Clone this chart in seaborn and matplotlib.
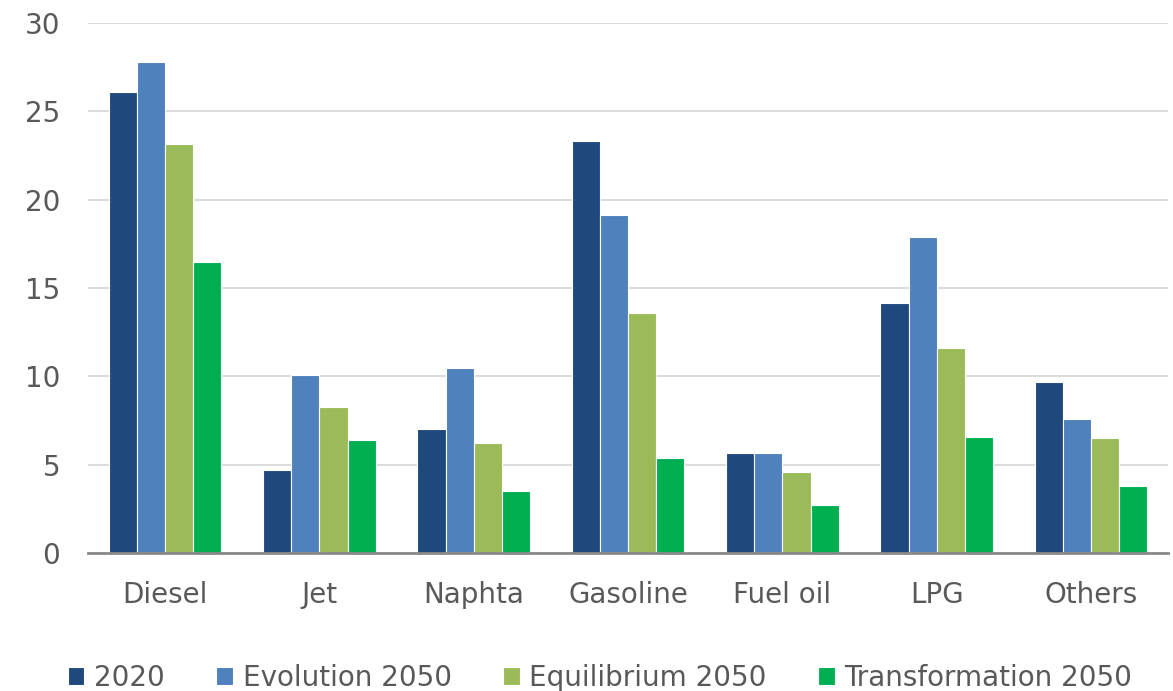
import numpy as np
import pandas as pd
import matplotlib.pyplot as plt
import seaborn as sns

# values
products = ["Diesel", "Jet", "Naphta", "Gasoline", "Fuel oil", "LPG", "Others"]
scenarios = ["2020", "Evolution 2050", "Equilibrium 2050", "Transformation 2050"]
v2020 = [26.1, 4.7, 7.0, 23.3, 5.65, 14.15, 9.7]
evolution = [27.8, 10.1, 10.45, 19.15, 5.65, 17.9, 7.6]
equilibrium = [23.15, 8.25, 6.25, 13.6, 4.6, 11.6, 6.5]
transformation = [16.5, 6.4, 3.5, 5.35, 2.7, 6.55, 3.8]
colors = ["#1F497D", "#4F81BD", "#9BBB59", "#00B050"]

df = pd.DataFrame({
    "product": products * 4,
    "scenario": np.repeat(scenarios, len(products)),
    "value": v2020 + evolution + equilibrium + transformation,
})

sns.set_style("white")
plt.rcParams["font.family"] = ["DejaVu Sans"]
text_col = "#595959"

fig = plt.figure(figsize=(11.73, 6.91), dpi=100)
ax = fig.add_axes([0.075, 0.1997, 0.921, 0.767])

sns.barplot(data=df, x="product", y="value", hue="scenario", order=products,
            hue_order=scenarios, palette=colors, width=0.73, gap=0,
            edgecolor="white", linewidth=0.8, saturation=1, ax=ax)

ax.set_ylim(0, 30)
ax.set_yticks(range(0, 31, 5))
ax.set_xlim(-0.5, len(products) - 0.5)
ax.yaxis.grid(True, color="#D9D9D9", linewidth=1.3)
ax.set_axisbelow(True)
for s in ["top", "right", "left"]:
    ax.spines[s].set_visible(False)
ax.spines["bottom"].set_color("#898989")
ax.spines["bottom"].set_linewidth(2)
ax.set_xlabel("")
ax.set_ylabel("")
ax.tick_params(axis="y", length=0, pad=20, labelsize=20, labelcolor=text_col)
ax.tick_params(axis="x", length=0, pad=20, labelsize=20, labelcolor=text_col)

ax.legend(loc="center", bbox_to_anchor=(0.474, -0.235), ncol=4, frameon=False,
          fontsize=20, labelcolor=text_col, handlelength=0.6, handleheight=0.6,
          handletextpad=0.35, columnspacing=1.85, borderaxespad=0)

fig.savefig("out.png", dpi=100)
